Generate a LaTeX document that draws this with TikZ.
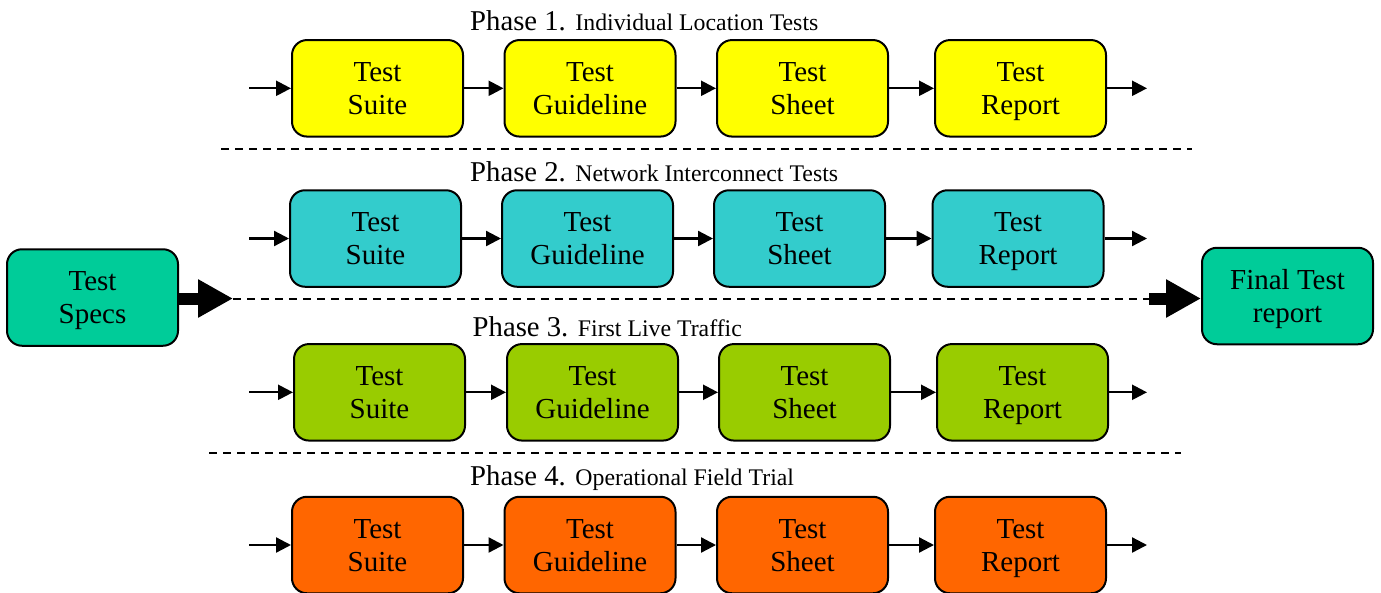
\documentclass[tikz,border=0pt]{standalone}
\usepackage{fontspec}
\setmainfont{Liberation Serif}
\usetikzlibrary{arrows.meta}
\definecolor{cyellow}{HTML}{FFFF00}
\definecolor{ccyan}{HTML}{33CCCC}
\definecolor{cgreen}{HTML}{99CC00}
\definecolor{corange}{HTML}{FF6600}
\definecolor{cteal}{HTML}{00CC99}
\tikzset{
  box/.style={draw=black, line width=2pt, rounded corners=15pt,
    minimum width=171pt, minimum height=96.5pt, inner sep=0pt,
    align=center, font=\fontsize{29}{33}\selectfont},
  flow/.style={line width=2.3pt, -{Triangle[length=15pt,width=15pt]}},
  bigflow/.style={line width=12pt, -{Triangle[length=35pt,width=36pt]}},
  sep/.style={line width=2pt, dash pattern=on 8pt off 6pt},
  ttl/.style={anchor=base west, inner sep=0pt, font=\fontsize{28.7}{33}\selectfont},
}
\newcommand{\smalltxt}[1]{{\fontsize{23.8}{28}\selectfont #1}}
\newcommand{\two}[2]{#1\\\smash{#2}}
\begin{document}
\begin{tikzpicture}[x=1pt,y=-1pt]
\useasboundingbox (0,0) rectangle (1381,592);

% Titles
\node[ttl] (t1) at (470,30.7) {Phase 1. \smalltxt{Individual Location Tests}};
\node[ttl] (t2) at (470,181.7) {Phase 2. \smalltxt{Network Interconnect Tests}};
\node[ttl] (t3) at (472.5,336) {Phase 3. \smalltxt{First Live Traffic}};
\node[ttl] (t4) at (470,485) {Phase 4. \smalltxt{Operational Field Trial}};

% Row 1
\node[box, fill=cyellow] (a1) at (377.5,88.3) {\two{Test}{Suite}};
\node[box, fill=cyellow] (a2) at (590,88.3) {\two{Test}{Guideline}};
\node[box, fill=cyellow] (a3) at (802.5,88.3) {\two{Test}{Sheet}};
\node[box, fill=cyellow] (a4) at (1020.5,88.3) {\two{Test}{Report}};
% Row 2
\node[box, fill=ccyan] (b1) at (375.5,238.5) {\two{Test}{Suite}};
\node[box, fill=ccyan] (b2) at (587.5,238.5) {\two{Test}{Guideline}};
\node[box, fill=ccyan] (b3) at (799.5,238.5) {\two{Test}{Sheet}};
\node[box, fill=ccyan] (b4) at (1018,238.5) {\two{Test}{Report}};
% Row 3
\node[box, fill=cgreen] (c1) at (379.5,392.3) {\two{Test}{Suite}};
\node[box, fill=cgreen] (c2) at (592.5,392.3) {\two{Test}{Guideline}};
\node[box, fill=cgreen] (c3) at (804.5,392.3) {\two{Test}{Sheet}};
\node[box, fill=cgreen] (c4) at (1022.5,392.3) {\two{Test}{Report}};
% Row 4
\node[box, fill=corange] (d1) at (377.5,545) {\two{Test}{Suite}};
\node[box, fill=corange] (d2) at (590,545) {\two{Test}{Guideline}};
\node[box, fill=corange] (d3) at (802.5,545) {\two{Test}{Sheet}};
\node[box, fill=corange] (d4) at (1020.5,545) {\two{Test}{Report}};

% Specs and final
\node[box, fill=cteal] (specs) at (92.5,297.5) {\two{Test}{Specs}};
\node[box, fill=cteal] (final) at (1287.5,296) {\two{Final Test}{report}};

% Row arrows
\foreach \r/\y in {a/88.3, b/238.5, c/392.3, d/545}{
  \coordinate (\r in) at (249,\y);
  \coordinate (\r out) at (1147,\y);
  \draw[flow] (\r in) -- (\r1.west);
  \draw[flow] (\r1.east) -- (\r2.west);
  \draw[flow] (\r2.east) -- (\r3.west);
  \draw[flow] (\r3.east) -- (\r4.west);
  \draw[flow] (\r4.east) -- (\r out);
}

% Dashed separators
\coordinate (s1a) at (221,148.5);
\coordinate (s1b) at (1192,148.5);
\draw[sep] (s1a) -- (s1b);
\coordinate (s3a) at (209,452.7);
\coordinate (s3b) at (1181,452.7);
\draw[sep] (s3a) -- (s3b);
\coordinate (s2a) at (233,298.5);
\coordinate (s2b) at (1149,298.5);
\draw[sep] (s2a) -- (s2b);

% Big arrows
\draw[bigflow] (specs.east |- s2a) -- (s2a);
\draw[bigflow] (s2b) -- (final.west |- s2b);
\end{tikzpicture}
\end{document}
